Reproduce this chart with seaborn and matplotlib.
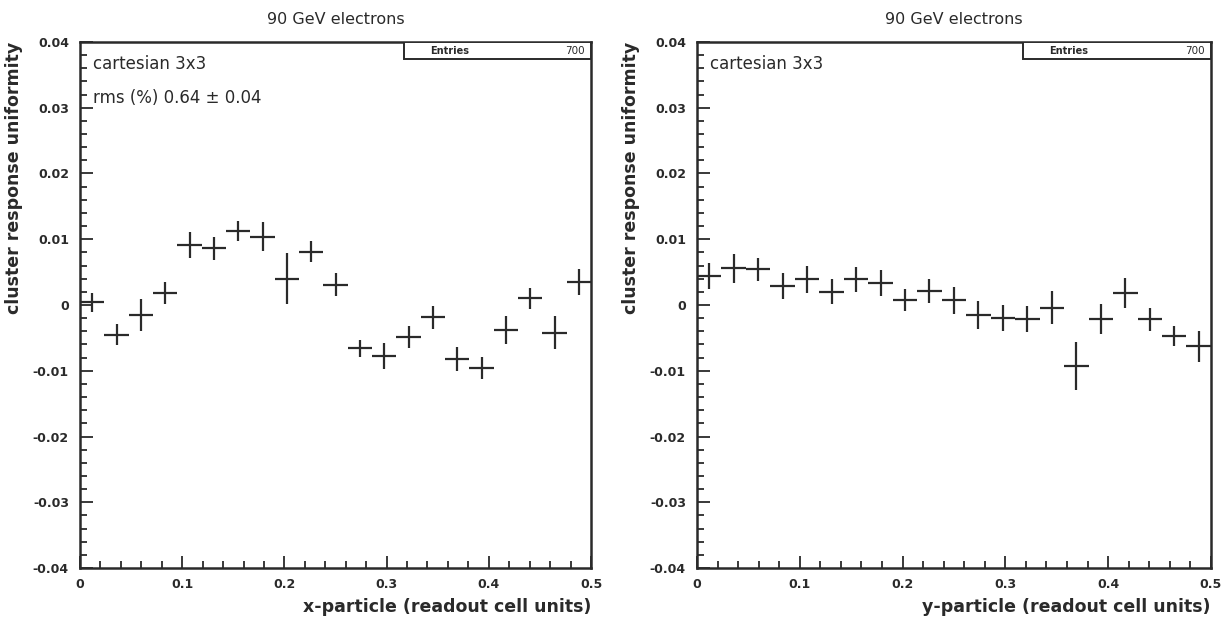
import numpy as np
import pandas as pd
import matplotlib
matplotlib.use("Agg")
import matplotlib.pyplot as plt
import seaborn as sns
from matplotlib.patches import Rectangle
from matplotlib.ticker import MultipleLocator, FormatStrFormatter

# 21 impact-position bins across half a readout cell
bin_edges = np.linspace(0.0, 0.5, 22)
bin_centers = 0.5 * (bin_edges[:-1] + bin_edges[1:])
bin_half_width = 0.5 * (bin_edges[1] - bin_edges[0])

# response uniformity versus x impact position
x_uniformity = [0.0004, -0.0045, -0.0015, 0.0018, 0.0091, 0.0086, 0.0112,
                0.0104, 0.0040, 0.0081, 0.0031, -0.0066, -0.0078, -0.0049,
                -0.0019, -0.0082, -0.0096, -0.0038, 0.0010, -0.0042, 0.0035]
x_uniformity_err = [0.0015, 0.0016, 0.0024, 0.0017, 0.0020, 0.0017, 0.0015,
                    0.0022, 0.0039, 0.0016, 0.0017, 0.0013, 0.0020, 0.0017,
                    0.0018, 0.0018, 0.0017, 0.0022, 0.0016, 0.0025, 0.0020]

# response uniformity versus y impact position
y_uniformity = [0.0044, 0.0056, 0.0054, 0.0029, 0.0039, 0.0020, 0.0039,
                0.0033, 0.0008, 0.0021, 0.0007, -0.0015, -0.0020, -0.0021,
                -0.0004, -0.0093, -0.0021, 0.0018, -0.0022, -0.0047, -0.0063]
y_uniformity_err = [0.0020, 0.0022, 0.0017, 0.0020, 0.0020, 0.0019, 0.0019,
                    0.0020, 0.0017, 0.0018, 0.0020, 0.0021, 0.0020, 0.0020,
                    0.0025, 0.0037, 0.0023, 0.0023, 0.0018, 0.0015, 0.0023]

panel_titles = ["90 GeV electrons", "90 GeV electrons"]
x_labels = ["x-particle (readout cell units)", "y-particle (readout cell units)"]
y_label = "cluster response uniformity"
panel_notes = [["cartesian 3x3", "rms (%) 0.64 \u00b1 0.04"], ["cartesian 3x3"]]
entries = 700

sns.set_theme(style="white")
plt.rcParams["font.family"] = ["DejaVu Sans"]
plt.rcParams["axes.unicode_minus"] = True

ink = "#2a2a2a"
fig = plt.figure(figsize=(12.31, 6.22), dpi=100)
fig.patch.set_facecolor("white")

axes_rects = [[0.065, 0.0868, 0.4151, 0.8457],
              [0.5662, 0.0868, 0.4175, 0.8457]]

panels = [(x_uniformity, x_uniformity_err), (y_uniformity, y_uniformity_err)]

for i, (vals, errs) in enumerate(panels):
    ax = fig.add_axes(axes_rects[i])
    df = pd.DataFrame({"pos": bin_centers, "val": vals, "err": errs})
    ax.errorbar(df["pos"], df["val"], xerr=bin_half_width, yerr=df["err"],
                fmt="none", ecolor=ink, elinewidth=1.6, capsize=0)
    ax.set_xlim(0.0, 0.5)
    ax.set_ylim(-0.04, 0.04)

    ax.xaxis.set_major_locator(MultipleLocator(0.1))
    ax.xaxis.set_minor_locator(MultipleLocator(0.02))
    ax.yaxis.set_major_locator(MultipleLocator(0.01))
    ax.yaxis.set_minor_locator(MultipleLocator(0.002))
    ax.xaxis.set_major_formatter(FormatStrFormatter("%g"))
    ax.yaxis.set_major_formatter(FormatStrFormatter("%g"))
    ax.tick_params(which="both", direction="in", bottom=True, left=True,
                   top=False, right=False, color=ink, labelcolor=ink,
                   labelsize=9, width=1.3)
    ax.tick_params(which="major", length=9, pad=8)
    ax.tick_params(which="minor", length=5)
    ax.tick_params(axis="x", which="major", pad=7)
    for lab in ax.get_xticklabels() + ax.get_yticklabels():
        lab.set_fontweight("semibold")

    for sp in ax.spines.values():
        sp.set_color(ink)
        sp.set_linewidth(1.8)

    ax.set_title(panel_titles[i], fontsize=11.5, color=ink, pad=13)
    ax.set_xlabel(x_labels[i], fontsize=12.5, color=ink, loc="right",
                  fontweight="semibold", labelpad=5)
    ax.set_ylabel(y_label, fontsize=12.5, color=ink, loc="top",
                  fontweight="semibold", labelpad=7)

    # statistics box in the upper-right corner
    box = Rectangle((0.635, 0.967), 0.365, 0.033, transform=ax.transAxes,
                    facecolor="white", edgecolor=ink, linewidth=1.4, zorder=5)
    ax.add_patch(box)
    ax.text(0.685, 0.983, "Entries", transform=ax.transAxes, fontsize=7,
            fontweight="bold", color=ink, va="center", ha="left", zorder=6)
    ax.text(0.988, 0.983, str(entries), transform=ax.transAxes, fontsize=7.5,
            color=ink, va="center", ha="right", zorder=6)

    for j, note in enumerate(panel_notes[i]):
        ax.text(0.025, 0.958 - j * 0.065, note, transform=ax.transAxes,
                fontsize=12, color=ink, va="center", ha="left")

fig.savefig("out.png", dpi=100, facecolor="white")
